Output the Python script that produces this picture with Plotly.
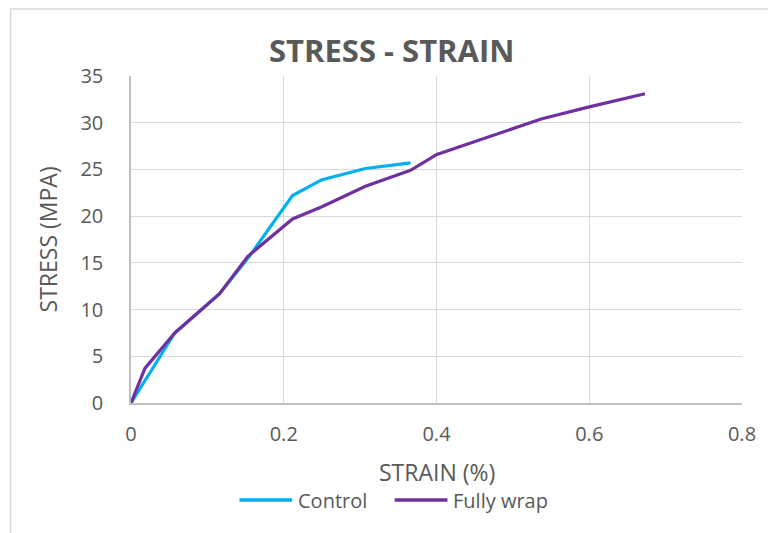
import plotly.graph_objects as go

control_strain = [0.0, 0.0573, 0.116, 0.155, 0.2115, 0.25, 0.307, 0.366]
control_stress = [0.0, 7.5, 11.7, 15.7, 22.2, 23.9, 25.1, 25.7]

wrap_strain = [0.0, 0.0182, 0.0573, 0.116, 0.153, 0.2115, 0.25, 0.307, 0.366, 0.4005, 0.537, 0.600, 0.673]
wrap_stress = [0.0, 3.7, 7.5, 11.7, 15.7, 19.7, 21.0, 23.2, 24.9, 26.6, 30.4, 31.7, 33.1]

x_ticks = [0, 0.2, 0.4, 0.6, 0.8]
y_ticks = [0, 5, 10, 15, 20, 25, 30, 35]

series_names = ["Control", "Fully wrap"]
series_colors = ["#00B0F0", "#7030A0"]

FONT = "Open Sans"
GREY = "#595959"

fig = go.Figure()
fig.add_trace(go.Scatter(x=control_strain, y=control_stress, mode="lines", name=series_names[0],
                         line=dict(color=series_colors[0], width=3.2)))
fig.add_trace(go.Scatter(x=wrap_strain, y=wrap_stress, mode="lines", name=series_names[1],
                         line=dict(color=series_colors[1], width=3.2)))

L, R, T, B = 131, 23, 76, 130
W, H = 768, 533
pw, ph = W - L - R, H - T - B

def px(xp):
    return (xp - L) / pw

def py(yp):
    return (H - B - yp) / ph

annotations = [
    dict(text="<b>STRESS - STRAIN</b>", xref="paper", yref="paper", x=px(393), y=py(50),
         xanchor="center", yanchor="middle", showarrow=False,
         font=dict(size=31, color=GREY, family=FONT)),
    dict(text="STRAIN (%)", xref="paper", yref="paper", x=px(438), y=py(472),
         xanchor="center", yanchor="middle", showarrow=False,
         font=dict(size=23, color=GREY, family=FONT)),
    dict(text="STRESS (MPA)", xref="paper", yref="paper", x=px(48), y=py(239),
         xanchor="center", yanchor="middle", showarrow=False, textangle=-90,
         font=dict(size=23, color=GREY, family=FONT)),
]
shapes = [
    dict(type="rect", xref="paper", yref="paper", x0=px(10), x1=px(800), y0=py(560), y1=py(9),
         line=dict(color="#d9d9d9", width=1.5), fillcolor="rgba(0,0,0,0)", layer="below"),
]

# manual legend
leg_x = [240, 396]
for name, color, lx in zip(series_names, series_colors, leg_x):
    shapes.append(dict(type="line", xref="paper", yref="paper", x0=px(lx), x1=px(lx + 53),
                       y0=py(500), y1=py(500), line=dict(color=color, width=3.5)))
    annotations.append(dict(text=name, xref="paper", yref="paper", x=px(lx + 57), y=py(500),
                            xanchor="left", yanchor="middle", showarrow=False,
                            font=dict(size=20, color=GREY, family=FONT)))

fig.update_layout(
    width=W, height=H,
    margin=dict(l=L, r=R, t=T, b=B),
    paper_bgcolor="white", plot_bgcolor="white",
    font=dict(family=FONT, color=GREY, size=16),
    showlegend=False,
    xaxis=dict(range=[0, 0.8], tickvals=x_ticks, ticktext=[str(v) for v in x_ticks],
               showgrid=True, gridcolor="#d9d9d9", gridwidth=1.3,
               showline=True, linecolor="#bfbfbf", linewidth=1.5, zeroline=False,
               ticks="", tickfont=dict(size=20, color=GREY), ticklabelstandoff=12),
    yaxis=dict(range=[0, 35], tickvals=y_ticks,
               showgrid=True, gridcolor="#d9d9d9", gridwidth=1.3,
               showline=True, linecolor="#bfbfbf", linewidth=1.5, zeroline=False,
               ticks="", tickfont=dict(size=20, color=GREY), ticklabelstandoff=22),
    annotations=annotations,
    shapes=shapes,
)

fig.write_html("out.html")
